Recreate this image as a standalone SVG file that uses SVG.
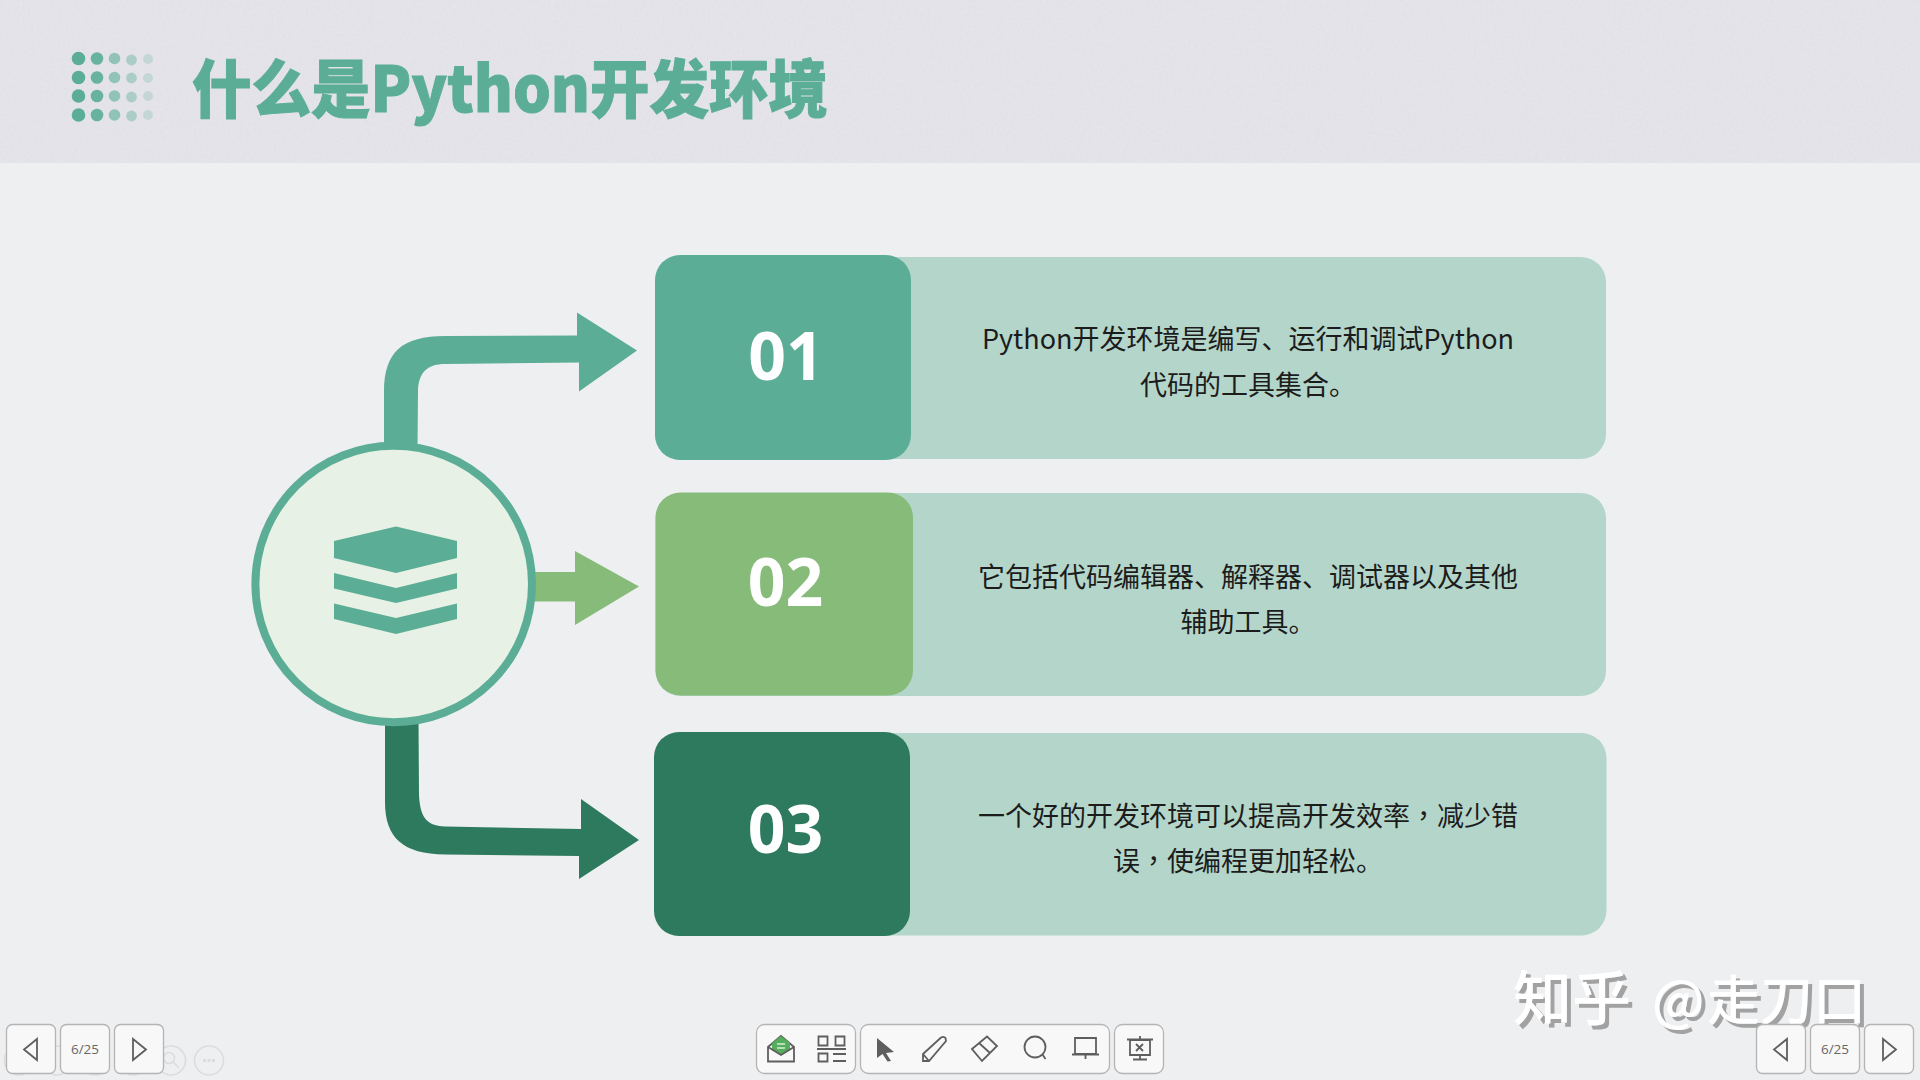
<svg xmlns="http://www.w3.org/2000/svg" width="1920" height="1080" viewBox="0 0 1920 1080">
<style>
.body{font-family:"Noto Sans CJK SC","Noto Sans",sans-serif;font-size:27px;fill:#1c1c1c;text-anchor:middle}
.tc{font-family:"Noto Sans CJK TC",sans-serif}
.num{font-family:"Noto Sans","Open Sans",sans-serif;font-weight:700;font-size:66px;fill:#fff;text-anchor:middle}
.lt{fill:#b4d6ca}
.btn{fill:#f8f8f8;stroke:#b4b4b4;stroke-width:1.3}
.ic{fill:none;stroke:#5e5e5e;stroke-width:1.800}
.ghost{fill:none;stroke:#dcdcdc;stroke-width:1.600}
.pg{font-family:"Open Sans","Noto Sans",sans-serif;font-size:13.500px;fill:#666;text-anchor:middle}
</style>
<defs>
<filter id="wm" x="-5%" y="-10%" width="110%" height="125%"><feDropShadow dx="4" dy="4" stdDeviation="0.6" flood-color="#a2a2a2"/></filter>
<filter id="grain" x="0" y="0" width="100%" height="100%"><feTurbulence type="fractalNoise" baseFrequency="0.35" numOctaves="3" seed="4"/><feColorMatrix values="0 0 0 0 1 0 0 0 0 1 0 0 0 0 1 0 0 0 0.6 -0.12"/></filter>
</defs>
<rect width="1920" height="1080" fill="#eeeff1"/>
<rect id="header" width="1920" height="163" fill="#e1e1e7"/>
<rect width="1920" height="163" filter="url(#grain)" opacity=".3"/>
<g id="dots" fill="#5bae95">
<g opacity="1"><circle cx="78.500" cy="58.500" r="6.800"/><circle cx="78.500" cy="77.500" r="6.800"/><circle cx="78.500" cy="96" r="6.800"/><circle cx="78.500" cy="115" r="6.800"/></g>
<g opacity=".9"><circle cx="97" cy="58.500" r="6.300"/><circle cx="97" cy="77.500" r="6.300"/><circle cx="97" cy="96" r="6.300"/><circle cx="97" cy="115" r="6.300"/></g>
<g opacity=".6"><circle cx="114.500" cy="58.500" r="5.800"/><circle cx="114.500" cy="77.500" r="5.800"/><circle cx="114.500" cy="96" r="5.800"/><circle cx="114.500" cy="115" r="5.800"/></g>
<g opacity=".4"><circle cx="131.500" cy="60" r="5.400"/><circle cx="131.500" cy="78" r="5.400"/><circle cx="131.500" cy="97" r="5.400"/><circle cx="131.500" cy="116" r="5.400"/></g>
<g opacity=".22"><circle cx="148" cy="59" r="5"/><circle cx="148" cy="78" r="5"/><circle cx="148" cy="96" r="5"/><circle cx="148" cy="115" r="5"/></g>
</g>
<text id="title" x="192" y="112" font-family="'Noto Sans CJK SC','Noto Sans',sans-serif" font-weight="900" font-size="63" fill="#5bae95" stroke="#5bae95" stroke-width="1" textLength="636" lengthAdjust="spacingAndGlyphs">什么是Python开发环境</text>

<g id="connectors">
<path fill="#5bae95" d="M384 450V392C384 352 402 336 445 336L577 335.500V312.500L637 350.500L579 391.500V362.500L445 364C428 364 418 372 418 392L417.500 450Z"/>
<path fill="#86bb7a" d="M530 572H575V551L639 586.500L575 625V601.500H530Z"/>
<path fill="#2e7a5f" d="M385 720V802C385 838 403 854 445 854.500L579 856V879L639 840L581 799V829L445 826.500C425 826 420 815 419 795L418.500 720Z"/>
</g>

<g id="hub">
<circle cx="393.700" cy="584" r="138.300" fill="#e8f1e5" stroke="#5bae95" stroke-width="8"/>
<g fill="#5bae95">
<polygon points="334,541 396,526.500 457,541 457,558 396,573 334,558"/>
<polygon points="334,573 396,588 457,573 457,588.500 396,603 334,588.500"/>
<polygon points="334,603.500 396,618 457,603.500 457,619 396,634 334,619"/>
</g>
</g>

<g id="card1">
<rect class="lt" x="655" y="257" width="951" height="202" rx="25"/>
<rect x="655" y="255" width="256" height="205" rx="25" fill="#5bae95"/>
<text class="num" x="786" y="380">01</text>
<text class="body" x="1248" y="349">Python开发环境是编写、运行和调试Python</text>
<text class="body" x="1248" y="394.500">代码的工具集合。</text>
</g>
<g id="card2">
<rect class="lt" x="655.500" y="493" width="950.500" height="203" rx="25"/>
<rect x="655.500" y="492.500" width="257.500" height="203" rx="25" fill="#86bb7a"/>
<text class="num" x="785.500" y="605.500">02</text>
<text class="body" x="1248" y="587">它包括代码编辑器、解释器、调试器以及其他</text>
<text class="body" x="1248" y="632">辅助工具。</text>
</g>
<g id="card3">
<rect class="lt" x="655" y="733" width="951.500" height="202.500" rx="25"/>
<rect x="654" y="732" width="256" height="204" rx="25" fill="#2e7a5f"/>
<text class="num" x="785.500" y="852.500">03</text>
<text class="body" x="1248" y="825.500">一个好的开发环境可以提高开发效率<tspan class="tc">，</tspan>减少错</text>
<text class="body" x="1248" y="871">误<tspan class="tc">，</tspan>使编程更加轻松。</text>
</g>

<text id="watermark" y="1020" filter="url(#wm)" font-family="'Noto Sans CJK SC',sans-serif" font-weight="500" font-size="59" fill="#fff"><tspan x="1513">知乎</tspan><tspan x="1652" font-size="54">@</tspan><tspan x="1707" font-size="53">走刀口</tspan></text>

<g id="ghost-tools" class="ghost">
<circle cx="19" cy="1060.500" r="14.500"/><circle cx="57" cy="1060.500" r="14.500"/><circle cx="95" cy="1060.500" r="14.500"/><circle cx="133" cy="1060.500" r="14.500"/><circle cx="171" cy="1060.500" r="14.500"/><circle cx="209" cy="1060.500" r="14.500"/>
<circle cx="169" cy="1058" r="5.500"/><path d="M173 1062l6 6"/><path d="M203 1060.500h12" stroke-dasharray="3 1.500" stroke-width="3"/>
</g>

<g id="nav-left">
<rect class="btn" x="6.500" y="1024.500" width="49" height="49" rx="6"/>
<path class="ic" d="M37 1039L24 1049.500L37 1060Z"/>
<rect class="btn" x="60.500" y="1024.500" width="49" height="49" rx="6"/>
<text class="pg" x="85" y="1054">6/25</text>
<rect class="btn" x="114.500" y="1024.500" width="49" height="49" rx="6"/>
<path class="ic" d="M133 1039L146 1049.500L133 1060Z"/>
</g>

<g id="toolbar">
<rect class="btn" x="756.500" y="1024.500" width="99" height="49" rx="8"/>
<rect class="btn" x="860.500" y="1024.500" width="249" height="49" rx="8"/>
<rect class="btn" x="1114.500" y="1024.500" width="49" height="49" rx="8"/>
<path class="ic" d="M768 1047V1061.500H794V1047L781 1036Z"/>
<path d="M772 1043L781 1036L790 1043V1050L781 1055L772 1050Z" fill="#55ae5c"/>
<path d="M777 1044h8M777 1048h8" stroke="#d8eed8" stroke-width="1.500"/>
<path class="ic" d="M768 1047L781 1055L794 1047"/>
<path class="ic" d="M818.500 1036.500h9v9h-9zM835.500 1036.500h9v9h-9zM818.500 1053.500h9v8h-9zM817 1049h29M833 1054h13M833 1061h13"/>
<path d="M877 1038L894 1052L886 1053L891 1061L887.500 1061.500L882.500 1054L877 1058Z" fill="#5e5e5e"/>
<path class="ic" d="M923 1061V1054L941 1037.500Q944 1036 945.500 1038L946 1041L929 1061ZM923 1054L929 1061"/>
<path class="ic" d="M972 1049L987 1036.500L997 1046L982 1061ZM979 1043L990 1053"/>
<circle class="ic" cx="1035" cy="1047" r="10.500"/>
<path class="ic" d="M1042.500 1054.500L1045.500 1059"/>
<path class="ic" d="M1075 1038H1096V1054H1075ZM1072 1054.500H1099M1085.500 1055V1059"/>
<path class="ic" d="M1130 1040H1150V1055H1130ZM1127 1039.500H1153M1140 1036V1040M1140 1055V1059M1133 1059.500H1147M1136 1044L1143 1051M1143 1044L1136 1051"/>
</g>

<g id="nav-right">
<rect class="btn" x="1756.500" y="1024.500" width="49" height="49" rx="6"/>
<path class="ic" d="M1787 1039L1774 1049.500L1787 1060Z"/>
<rect class="btn" x="1810.500" y="1024.500" width="49" height="49" rx="6"/>
<text class="pg" x="1835" y="1054">6/25</text>
<rect class="btn" x="1864.500" y="1024.500" width="49" height="49" rx="6"/>
<path class="ic" d="M1883 1039L1896 1049.500L1883 1060Z"/>
</g>
</svg>
